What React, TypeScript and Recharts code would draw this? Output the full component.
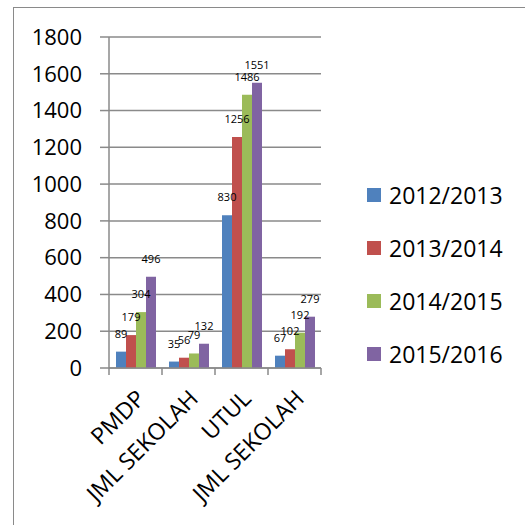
import React from "react";
import { BarChart, Bar, XAxis, YAxis, CartesianGrid, LabelList } from "recharts";

const categories = ["PMDP", "JML SEKOLAH", "UTUL", "JML SEKOLAH"];
const years = ["2012/2013", "2013/2014", "2014/2015", "2015/2016"];
const s2012 = [89, 35, 830, 67];
const s2013 = [179, 56, 1256, 102];
const s2014 = [304, 79, 1486, 192];
const s2015 = [496, 132, 1551, 279];
const yTicks = [0, 200, 400, 600, 800, 1000, 1200, 1400, 1600, 1800];

const colors = ["#4F81BD", "#C0504D", "#9BBB59", "#8064A2"];
const seriesValues = [s2012, s2013, s2014, s2015];
const keys = ["a", "b", "c", "d"];

const data = categories.map((name, i) => {
  const row: any = { name };
  keys.forEach((k, j) => (row[k] = seriesValues[j][i]));
  return row;
});

const FONT = "'Open Sans', sans-serif";
const GRAY = "#8a8a8a";

const XTick = (props: any) => {
  const { x, y, payload, index } = props;
  const half = 26.5;
  return (
    <g transform={`translate(${x},${y})`}>
      <line x1={-half} y1={0} x2={-half} y2={7} stroke={GRAY} strokeWidth={1.5} />
      {index === categories.length - 1 && (
        <line x1={half} y1={0} x2={half} y2={7} stroke={GRAY} strokeWidth={1.5} />
      )}
      <text
        x={11}
        y={32}
        transform="rotate(-45 11 32)"
        textAnchor="end"
        fontSize={23}
        fontFamily={FONT}
        fill="#000"
      >
        {payload.value}
      </text>
    </g>
  );
};

const LegendBox = () => (
  <div
    style={{
      position: "absolute",
      left: 367,
      top: 168,
      fontFamily: FONT,
      fontSize: 23,
      color: "#000",
    }}
  >
    {years.map((y, i) => (
      <div key={y} style={{ height: 53, display: "flex", alignItems: "center" }}>
        <span
          style={{ width: 14, height: 14, background: colors[i], display: "inline-block", marginRight: 8 }}
        />
        <span>{y}</span>
      </div>
    ))}
  </div>
);

export default function App() {
  return (
    <div style={{ position: "absolute", left: 0, top: 0, width: 525, height: 525, overflow: "hidden", background: "#fff" }}>
      <div
        style={{
          position: "absolute",
          left: 13,
          top: 7,
          width: 700,
          height: 700,
          border: `1.5px solid ${GRAY}`,
        }}
      />
      <div style={{ position: "absolute", left: 0, top: 0 }}>
        <BarChart
          width={525}
          height={525}
          data={data}
          margin={{ top: 37, right: 204, bottom: 0, left: 0 }}
          barCategoryGap={7}
          barGap={0}
        >
          <CartesianGrid vertical={false} stroke={GRAY} strokeWidth={1.5} />
          <XAxis
            dataKey="name"
            height={157}
            interval={0}
            tickLine={false}
            tickSize={0}
            tickMargin={0}
            axisLine={{ stroke: GRAY, strokeWidth: 1.5 }}
            tick={<XTick />}
          />
          <YAxis
            width={109}
            domain={[0, 1800]}
            ticks={yTicks}
            interval={0}
            tickSize={9}
            tickMargin={18}
            tickLine={{ stroke: GRAY, strokeWidth: 1.5 }}
            axisLine={{ stroke: GRAY, strokeWidth: 1.5 }}
            tick={{ fill: "#000", fontSize: 22, fontFamily: FONT }}
          />
          {keys.map((k, i) => (
            <Bar key={k} dataKey={k} name={years[i]} fill={colors[i]} isAnimationActive={false}>
              <LabelList
                dataKey={k}
                position="top"
                offset={14}
                fontSize={11}
                fontFamily={FONT}
                fill="#000"
              />
            </Bar>
          ))}
        </BarChart>
      </div>
      <LegendBox />
    </div>
  );
}
